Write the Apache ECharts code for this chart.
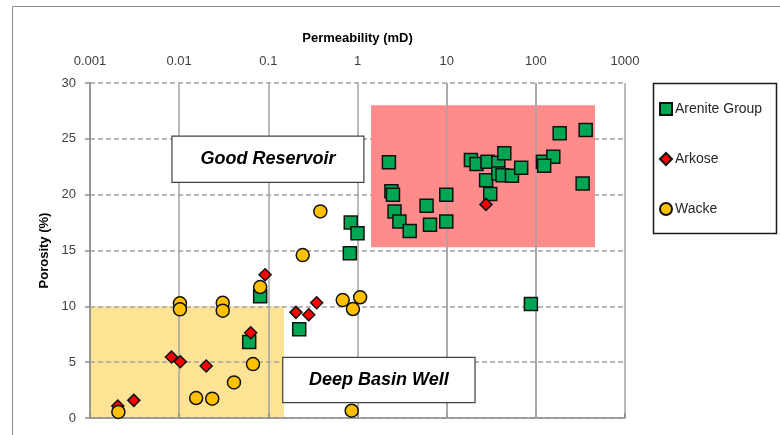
<!DOCTYPE html>
<html>
<head>
<meta charset="utf-8">
<script src="https://cdn.jsdelivr.net/npm/echarts@6/dist/echarts.min.js"></script>
<style>
  html, body { margin: 0; padding: 0; background: #ffffff; }
  #chart { width: 780px; height: 435px; }
</style>
</head>
<body>
<div id="chart"></div>
<script>
// Axis tick labels
const xTickLabels = ['0.001', '0.01', '0.1', '1', '10', '100', '1000'];
const yTickLabels = ['0', '5', '10', '15', '20', '25', '30'];

// Series names
const seriesNames = ['Arenite Group', 'Arkose', 'Wacke'];

// [permeability (mD), porosity (%)]
const arenite = [
  [2.25, 22.9], [2.4, 20.3], [2.5, 20.0], [2.6, 18.5], [2.95, 17.6], [3.85, 16.75],
  [5.95, 19.0], [6.5, 17.3], [9.9, 20.0], [9.9, 17.6], [18.7, 23.1], [21.6, 22.75],
  [28.7, 22.95], [37.9, 22.85], [44.3, 23.7], [27.7, 21.3], [37.9, 21.9], [42.3, 21.75],
  [54, 21.7], [68.5, 22.4], [30.8, 20.05], [120, 22.95], [157, 23.4], [124, 22.6],
  [185, 25.5], [362, 25.8], [335, 21.0], [88, 10.2], [0.84, 17.5], [1.0, 16.55],
  [0.82, 14.75], [0.081, 10.9], [0.222, 7.95], [0.061, 6.8]
];
const arkose = [
  [0.00205, 1.07], [0.0031, 1.58], [0.0082, 5.46], [0.0103, 5.04], [0.0201, 4.66],
  [0.0634, 7.64], [0.092, 12.83], [0.204, 9.46], [0.284, 9.25], [0.348, 10.32],
  [27.6, 19.13]
];
const wacke = [
  [0.00208, 0.54], [0.0155, 1.79], [0.0235, 1.73], [0.0412, 3.19], [0.0673, 4.83],
  [0.0102, 10.27], [0.0102, 9.73], [0.0308, 10.32], [0.0308, 9.61], [0.081, 11.73],
  [0.243, 14.59], [0.383, 18.5], [0.683, 10.56], [0.889, 9.76], [1.07, 10.81],
  [0.861, 0.65]
];

// Zone captions
const zoneNames = ['Good Reservoir', 'Deep Basin Well'];

const FONT = '"Liberation Sans", Arial, sans-serif';
const GRID_GRAY = '#a3a3a3';
const AXIS_GRAY = '#8c8c8c';

// Shaded zones and caption boxes, in data coordinates
const reservoirZone = [[1.42, 28], [460, 15.3]];
const deepBasinZone = [[0.001, 10], [0.15, 0]];
const reservoirCaption = [[0.0083, 25.25], [1.18, 21.1]];
const deepBasinCaption = [[0.145, 5.43], [20.8, 1.37]];

const chart = echarts.init(document.getElementById('chart'), null, { renderer: 'canvas' });

function markerSeries(name, data, symbol, size, color, z) {
  return {
    name: name,
    type: 'scatter',
    data: data,
    symbol: symbol,
    symbolSize: size,
    z: z,
    itemStyle: { color: color, borderColor: '#111111', borderWidth: 1.5, opacity: 1 },
    emphasis: { disabled: true }
  };
}

function captionBox(text, corners) {
  return [
    {
      name: text,
      coord: corners[0],
      itemStyle: { color: '#ffffff', borderColor: '#404040', borderWidth: 1.2 },
      label: {
        show: true, position: 'inside', formatter: text,
        fontFamily: FONT, fontSize: 18, fontWeight: 'bold', fontStyle: 'italic', color: '#000000'
      }
    },
    { coord: corners[1] }
  ];
}

const option = {
  backgroundColor: '#ffffff',
  animation: false,
  grid: { left: 90, right: 155, top: 83, bottom: 17, containLabel: false },
  xAxis: {
    type: 'log',
    logBase: 10,
    min: 0.001,
    max: 1000,
    position: 'top',
    z: 0,
    name: 'Permeability (mD)',
    nameLocation: 'middle',
    nameGap: 38,
    nameTextStyle: { fontFamily: FONT, fontSize: 13, fontWeight: 'bold', color: '#000000' },
    axisLine: { show: true, lineStyle: { color: AXIS_GRAY, width: 1.5 } },
    axisTick: { show: true, length: 5, lineStyle: { color: AXIS_GRAY, width: 1.5 } },
    axisLabel: {
      margin: 15,
      fontFamily: FONT, fontSize: 13, color: '#404040',
      formatter: v => xTickLabels[Math.round(Math.log10(v)) + 3]
    },
    splitLine: { show: true, lineStyle: { color: GRID_GRAY, width: 1.5, type: 'solid' } },
    minorTick: { show: false },
    minorSplitLine: { show: false }
  },
  yAxis: {
    type: 'value',
    min: 0,
    max: 30,
    interval: 5,
    z: 0,
    name: 'Porosity (%)',
    nameLocation: 'middle',
    nameRotate: 90,
    nameGap: 38,
    nameTextStyle: { fontFamily: FONT, fontSize: 13, fontWeight: 'bold', color: '#000000' },
    axisLine: { show: true, lineStyle: { color: AXIS_GRAY, width: 1.5 } },
    axisTick: { show: true, length: 5, lineStyle: { color: AXIS_GRAY, width: 1.5 } },
    axisLabel: {
      margin: 14,
      fontFamily: FONT, fontSize: 13, color: '#404040',
      formatter: v => yTickLabels[Math.round(v / 5)]
    },
    splitLine: { show: true, lineStyle: { color: GRID_GRAY, width: 1.5, type: [5, 3] } }
  },
  legend: {
    orient: 'vertical',
    left: 659,
    top: 102,
    padding: 0,
    itemWidth: 12,
    itemHeight: 12,
    itemGap: 36,
    selectedMode: false,
    data: seriesNames,
    textStyle: { fontFamily: FONT, fontSize: 14, color: '#262626', padding: [0, 0, 0, -2] }
  },
  graphic: [
    {
      type: 'rect', silent: true, z: 100,
      shape: { x: 12.5, y: 6.5, width: 790, height: 450 },
      style: { fill: 'none', stroke: '#8c8c8c', lineWidth: 1 }
    },
    {
      type: 'rect', silent: true, z: 100,
      shape: { x: 653.5, y: 83.5, width: 123, height: 150 },
      style: { fill: 'none', stroke: '#1a1a1a', lineWidth: 1.5 }
    }
  ],
  series: [
    {
      // yellow zone sits underneath the grid lines
      type: 'scatter', data: [], z: -1, silent: true,
      markArea: {
        silent: true, z: -1,
        itemStyle: { color: '#ffe395' },
        data: [[{ coord: deepBasinZone[0] }, { coord: deepBasinZone[1] }]]
      }
    },
    {
      // red zone covers the horizontal dashes; decade lines redrawn on top
      type: 'scatter', data: [], z: 1, silent: true,
      markArea: {
        silent: true, z: 1,
        itemStyle: { color: '#ff8b8b' },
        data: [[{ coord: reservoirZone[0] }, { coord: reservoirZone[1] }]]
      }
    },
    {
      type: 'scatter', data: [], z: 1.5, silent: true,
      markLine: {
        silent: true, z: 1.5, symbol: 'none', label: { show: false },
        lineStyle: { color: GRID_GRAY, width: 1.5, type: 'solid' },
        data: [{ xAxis: 10 }, { xAxis: 100 }]
      }
    },
    {
      type: 'scatter', data: [], z: 1.8, silent: true,
      markArea: {
        silent: true, z: 1.8,
        data: [captionBox(zoneNames[0], reservoirCaption), captionBox(zoneNames[1], deepBasinCaption)]
      }
    },
    markerSeries(seriesNames[0], arenite, 'rect', 13, '#00a651', 3),
    markerSeries(seriesNames[1], arkose, 'diamond', 12, '#ff0000', 4),
    markerSeries(seriesNames[2], wacke, 'circle', 13, '#ffc000', 5)
  ]
};

chart.setOption(option);
</script>
</body>
</html>
